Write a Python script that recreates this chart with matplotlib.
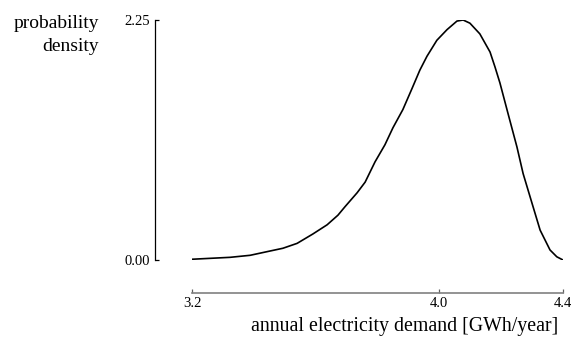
import numpy as np
import matplotlib
matplotlib.use("Agg")
import matplotlib.pyplot as plt

# --- DATA ---
demand = [3.200, 3.323, 3.388, 3.452, 3.494, 3.540, 3.591, 3.637, 3.672, 3.695,
          3.734, 3.760, 3.792, 3.824, 3.850, 3.882, 3.912, 3.937, 3.960, 3.992,
          4.025, 4.057, 4.077, 4.099, 4.131, 4.164, 4.180, 4.196, 4.222, 4.251,
          4.271, 4.300, 4.326, 4.358, 4.380, 4.400]
density = [0.007, 0.025, 0.044, 0.084, 0.11, 0.156, 0.244, 0.33, 0.42, 0.50,
           0.63, 0.73, 0.92, 1.08, 1.24, 1.41, 1.61, 1.78, 1.91, 2.06,
           2.16, 2.24, 2.25, 2.22, 2.12, 1.95, 1.81, 1.66, 1.375, 1.06,
           0.81, 0.53, 0.28, 0.094, 0.03, 0.0]
x_ticks = [3.2, 4.0, 4.4]
x_tick_labels = ["3.2", "4.0", "4.4"]
y_ticks = [0.0, 2.25]
y_tick_labels = ["0.00", "2.25"]

plt.rcParams['font.family'] = ['Liberation Serif', 'DejaVu Serif']

W, H = 572, 339
fig = plt.figure(figsize=(W / 100, H / 100), dpi=100)
ax = fig.add_axes([192 / W, 1 - 260 / H, (563 - 192) / W, (260 - 20) / H])

ax.plot(demand, density, color='black', linewidth=1.2)

ax.set_xlim(3.2, 4.4)
ax.set_ylim(0, 2.25)

for s in ['top', 'right']:
    ax.spines[s].set_visible(False)
ax.spines['left'].set_position(('outward', 26.6))
ax.spines['left'].set_bounds(0, 2.25)
ax.spines['left'].set_linewidth(0.9)
ax.spines['bottom'].set_position(('outward', 23.8))
ax.spines['bottom'].set_bounds(3.2, 4.4)
ax.spines['bottom'].set_color('#808080')
ax.spines['bottom'].set_linewidth(1.2)

ax.set_xticks(x_ticks)
ax.set_xticklabels(x_tick_labels)
ax.set_yticks(y_ticks)
ax.set_yticklabels(y_tick_labels)
ax.tick_params(axis='x', direction='in', length=3, width=0.9, color='#606060',
               pad=3, labelsize=10.5)
ax.tick_params(axis='y', direction='in', length=3, width=0.9, color='black',
               pad=3.5, labelsize=10.5)

fig.text(99 / W, 1 - 15 / H, "probability\ndensity", ha='right', va='top',
         fontsize=14, linespacing=1.45)
fig.text(558 / W, 1 - 331 / H, "annual electricity demand [GWh/year]",
         ha='right', va='baseline', fontsize=14.3)

fig.savefig("out.png", dpi=100)
